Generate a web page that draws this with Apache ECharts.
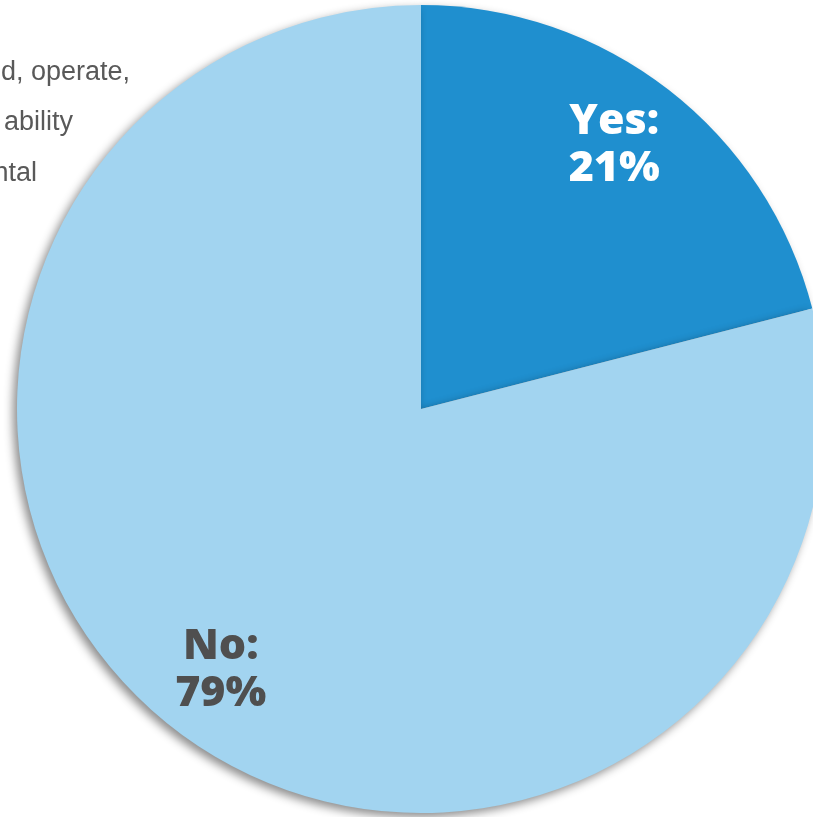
<!DOCTYPE html>
<html>
<head>
<meta charset="utf-8">
<script src="https://cdn.jsdelivr.net/npm/echarts@6/dist/echarts.min.js"></script>
<style>
  html, body { margin: 0; padding: 0; background: #fff; }
  #chart { width: 813px; height: 817px; }
</style>
</head>
<body>
<div id="chart"></div>
<script>
// slice names and shares (%)
const categories = ["Yes", "No"];
const values = [21, 79];
const sliceColors = ["#1f8fcf", "#a2d4f0"];
const labelColors = ["#ffffff", "#4f4f4f"];
// the clipped sentence fragments peeking out behind the pie
const bgLines = ["d, operate,", "ability", "ntal"];

const chart = echarts.init(document.getElementById("chart"));

const pieData = categories.map((name, i) => ({
  name: name,
  value: values[i],
  itemStyle: { color: sliceColors[i] },
}));

// small nudges so the labels sit where the original ones do
const labelOffsets = [[-9, -3], [2, 0]];

// ghost ring only used to push the labels out to ~0.8 of the radius
const labelData = categories.map((name, i) => ({
  name: name,
  value: values[i],
  label: { color: labelColors[i], offset: labelOffsets[i] },
}));

const bgRight = [130, 73, 37];
const bgBase = [86, 136, 187];

chart.setOption({
  animation: false,
  graphic: bgLines.map((t, i) => ({
    type: "text",
    z: 0,
    style: {
      text: t,
      x: bgRight[i],
      y: bgBase[i],
      textAlign: "right",
      textVerticalAlign: "bottom",
      fill: "#595959",
      font: "27px 'Liberation Sans', Arial, sans-serif",
    },
  })),
  series: [
    {
      type: "pie",
      center: [421, 409],
      radius: [0, 404],
      startAngle: 90,
      clockwise: true,
      silent: true,
      label: { show: false },
      labelLine: { show: false },
      itemStyle: {
        shadowBlur: 10,
        shadowOffsetX: -4,
        shadowOffsetY: 4,
        shadowColor: "rgba(0,0,0,0.45)",
      },
      data: pieData,
    },
    {
      type: "pie",
      center: [421, 409],
      radius: [250, 404],
      startAngle: 90,
      clockwise: true,
      silent: true,
      itemStyle: { color: "transparent" },
      labelLine: { show: false },
      label: {
        show: true,
        position: "inside",
        formatter: "{b}:\n{c}%",
        fontFamily: "'Open Sans', sans-serif",
        fontWeight: 800,
        fontSize: 43,
        lineHeight: 47,
      },
      data: labelData,
    },
  ],
});
</script>
</body>
</html>
